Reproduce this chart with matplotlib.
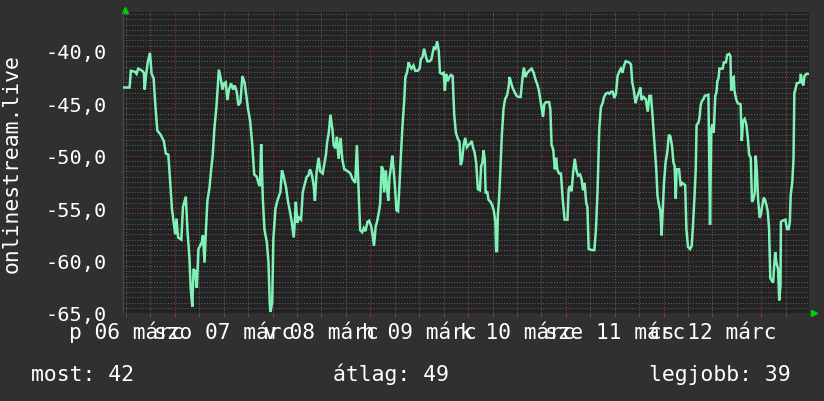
import matplotlib
matplotlib.use("Agg")
import matplotlib.pyplot as plt
from matplotlib.ticker import FuncFormatter
from matplotlib.transforms import blended_transform_factory

plt.rcParams["font.family"] = ["DejaVu Sans Mono"]

# hours relative to 07 March 00:00, and the measured values
hours = [
    -12.6, -11.1, -10.8, -9.8, -9.4, -9.0, -8.0, -7.6, -7.4, -7.0, -6.6, -6.1,
    -5.7, -5.2, -4.8, -4.3, -3.5, -2.7, -2.2, -1.6, -1.1, -0.7, -0.3, 0.1,
    0.4, 0.8, 1.6, 2.0, 2.7, 3.1, 3.6, 3.9, 4.3, 4.6, 5.0, 5.4, 5.8, 6.6,
    6.9, 7.3, 7.6, 8.0, 8.5, 8.9, 9.3, 9.7, 10.2, 10.5, 10.8, 11.3, 11.7, 12.1,
    12.5, 12.9, 13.3, 13.8, 14.3, 14.7, 15.2, 15.6, 16.1, 16.6, 17.1, 17.6,
    18.0, 18.5, 19.0, 19.5, 20.1, 20.6, 20.9, 21.2, 21.6, 22.0, 22.6, 23.0,
    23.3, 23.5, 23.9, 24.2, 24.7, 25.1, 25.6, 25.9, 26.3, 26.7, 27.0, 27.3,
    27.8, 28.3, 28.7, 29.2, 29.5, 29.7, 30.1, 30.5, 31.0, 31.4, 31.9, 32.4,
    32.8, 33.2, 33.7, 34.1, 34.4, 34.8, 35.3, 35.7, 36.3, 36.7, 37.1, 37.4,
    37.8, 38.2, 38.7, 39.0, 39.4, 39.8, 40.2, 40.7, 41.1, 41.6, 42.5, 43.1,
    43.6, 44.3, 44.7, 45.0, 45.5, 46.0, 46.4, 46.8, 47.3, 47.7, 48.2, 48.5,
    48.9, 49.3, 49.7, 50.1, 50.4, 50.8, 51.1, 51.4, 51.8, 52.1, 52.4, 52.7,
    53.1, 53.4, 53.7, 54.1, 54.4, 54.8, 55.1, 55.5, 55.9, 56.3, 56.6, 57.0,
    57.4, 57.8, 58.1, 58.6, 59.0, 59.6, 60.1, 60.4, 60.8, 61.2, 61.6, 62.0,
    62.6, 63.0, 63.3, 63.6, 64.0, 64.4, 64.8, 65.1, 65.6, 66.0, 66.3, 66.6,
    67.0, 67.4, 67.8, 68.2, 68.6, 69.0, 69.5, 69.9, 70.2, 70.5, 70.9, 71.3,
    71.7, 72.1, 72.6, 72.9, 73.2, 73.6, 74.0, 74.4, 74.9, 75.2, 75.5, 75.8,
    76.1, 76.3, 76.7, 77.0, 77.5, 77.9, 78.3, 78.7, 78.9, 79.1, 79.3, 79.6,
    79.9, 80.3, 80.7, 81.1, 81.6, 82.0, 82.2, 82.6, 83.0, 83.5, 83.9, 84.4,
    84.9, 85.3, 85.7, 86.1, 86.5, 87.0, 87.6, 88.1, 88.6, 89.0, 89.4, 89.8,
    90.4, 90.7, 91.1, 91.9, 92.2, 92.5, 92.9, 93.3, 93.6, 93.9, 94.3, 94.8,
    95.2, 95.7, 96.4, 96.7, 97.0, 97.4, 97.8, 98.2, 98.6, 99.0, 99.5, 99.9,
    100.2, 100.6, 101.0, 101.3, 101.6, 102.4, 103.0, 103.4, 103.8, 104.2,
    104.6, 105.0, 105.4, 105.8, 106.3, 106.7, 107.1, 107.5, 107.9, 108.3,
    108.7, 109.1, 109.5, 109.9, 110.3, 110.7, 111.5, 112.0, 112.3, 112.7,
    113.1, 113.5, 113.9, 114.3, 114.6, 115.1, 115.6, 116.1, 116.5, 116.9,
    117.3, 117.8, 118.2, 118.5, 118.9, 119.2, 119.5, 119.8, 120.1, 120.5,
    120.9, 121.3, 121.7, 122.1, 122.4, 122.7, 123.0, 123.2, 123.8, 124.2,
    124.6, 125.3, 125.6, 126.0, 126.5, 126.9, 127.2, 127.6, 127.9, 128.1,
    128.6, 128.8, 129.1, 129.4, 129.8, 130.1, 131.0, 131.2, 131.4, 131.7,
    132.0, 132.3, 132.7, 133.0, 133.2, 133.5, 133.7, 134.5, 134.8, 135.3,
    135.6, 136.1, 136.4, 136.6, 136.9, 137.2, 137.4, 137.8, 138.2, 138.9,
    139.2, 139.5, 139.9, 140.3, 140.7, 141.0, 141.4, 141.7, 142.0, 142.4,
    142.6, 142.9, 143.2, 143.6, 143.9, 144.2, 144.6, 144.9, 145.3, 145.6,
    145.9, 146.2, 146.9, 147.1, 147.4, 147.7, 148.1, 148.4, 148.7, 148.8,
    149.2, 149.9, 150.3, 150.7, 151.0, 151.2, 151.6, 151.9, 152.1, 152.3,
    152.7, 153.5, 153.7, 154.0, 154.3, 154.6, 155.1, 155.7,
]
values = [
    -43.5, -43.5, -41.9, -42.0, -42.2, -41.7, -41.9, -42.1, -43.7, -42.1, -41.0, -40.2,
    -42.2, -42.6, -45.1, -47.6, -48.0, -48.6, -49.8, -49.9, -52.7, -55.1, -56.3, -57.5,
    -56.0, -57.8, -58.0, -54.9, -53.9, -57.1, -59.8, -62.7, -64.4, -60.8, -61.0, -62.6, -58.9, -58.3,
    -57.6, -60.2, -57.4, -54.3, -53.1, -51.4, -50.0, -47.5, -45.4, -43.7, -41.8, -42.7, -43.7, -43.1,
    -43.0, -44.7, -43.7, -43.1, -43.7, -43.3, -43.9, -45.2, -44.9, -42.4, -43.0, -44.4,
    -45.6, -46.7, -48.9, -51.8, -52.0, -52.7, -52.9, -48.9, -54.1, -57.0, -58.3, -60.2,
    -64.0, -64.9, -64.0, -57.9, -55.1, -54.4, -53.8, -53.5, -51.4, -51.9, -52.5, -53.0,
    -54.4, -55.4, -56.3, -57.8, -56.0, -54.4, -56.4, -55.9, -56.1, -53.5, -52.7, -52.0,
    -51.9, -51.3, -51.9, -52.9, -54.3, -51.6, -50.2, -51.5, -51.7, -50.8, -49.9, -48.7,
    -47.8, -46.1, -47.5, -49.0, -49.3, -48.2, -50.3, -48.3, -50.3, -51.3, -51.5, -51.7,
    -52.2, -52.6, -49.0, -52.1, -57.1, -57.3, -56.9, -57.2, -56.3, -56.2, -56.7, -57.4,
    -58.6, -56.8, -56.2, -55.4, -54.6, -51.0, -51.3, -53.5, -51.4, -53.1, -54.3, -52.1,
    -51.0, -50.0, -51.3, -53.2, -55.2, -55.3, -53.2, -50.0, -47.1, -44.9, -42.5, -42.1,
    -41.1, -41.5, -41.7, -41.4, -41.9, -41.9, -41.7, -40.8, -40.6, -39.8, -40.5, -41.0,
    -41.0, -40.8, -40.2, -39.7, -39.8, -39.1, -40.0, -42.1, -42.2, -42.1, -43.8, -42.2,
    -42.9, -42.5, -42.3, -42.4, -46.1, -47.8, -48.4, -48.7, -50.9, -50.5, -49.0, -48.3,
    -49.2, -49.0, -48.8, -48.6, -49.2, -49.7, -50.7, -53.2, -53.3, -51.0, -50.7, -49.5,
    -50.4, -53.6, -53.4, -54.2, -54.4, -54.7, -55.2, -56.3, -59.1, -59.1, -55.7, -54.1,
    -51.6, -48.0, -45.5, -44.6, -44.2, -43.3, -42.5, -43.1, -43.6, -44.0, -44.3, -44.4,
    -44.4, -42.8, -41.6, -42.5, -42.1, -41.9, -41.7, -42.1, -42.8, -43.2, -43.8, -44.8,
    -46.3, -45.1, -44.9, -44.9, -45.6, -49.0, -49.4, -51.3, -50.2, -51.3, -51.7, -51.7,
    -54.0, -56.1, -56.1, -53.2, -52.9, -53.4, -51.6, -50.3, -51.4, -51.9, -51.8, -52.3,
    -53.3, -52.6, -54.5, -54.9, -58.9, -59.0, -59.0, -57.0, -53.2, -47.5,
    -45.4, -45.0, -44.4, -44.1, -44.0, -44.1, -43.9, -43.9, -44.5, -44.1,
    -42.4, -42.0, -41.7, -42.1, -41.4, -41.0, -41.1, -41.3, -43.0, -43.8,
    -45.0, -44.4, -44.0, -43.5, -44.7, -44.4, -44.6, -45.8, -44.3, -44.3,
    -46.3, -49.0, -51.3, -53.8, -54.8, -55.2, -57.6, -55.2, -52.6, -50.6,
    -49.7, -48.0, -48.2, -49.2, -50.6, -51.0, -54.1, -51.3, -51.3, -52.9,
    -52.6, -52.8, -57.0, -58.7, -58.9, -58.6, -56.8, -53.8, -51.3, -47.1,
    -46.8, -46.4, -45.2, -44.8, -44.6, -44.3, -44.2, -50.0, -56.6, -47.5,
    -47.0, -47.8, -44.3, -43.9, -42.9, -42.6, -41.7, -41.7, -41.1, -41.1,
    -40.4, -40.3, -40.5, -43.8, -42.6, -42.5, -43.8, -44.6, -45.0, -45.1,
    -48.6, -46.7, -46.5, -47.0, -48.4, -49.9, -50.2, -54.4, -54.2, -53.5,
    -50.0, -51.5, -54.2, -55.9, -55.6, -54.8, -54.0, -54.2, -54.8, -55.4,
    -57.0, -61.7, -62.1, -60.8, -59.2, -60.2, -60.8, -63.8, -62.4, -56.3,
    -56.2, -56.1, -57.0, -57.0, -56.3, -53.8, -52.5, -50.3, -44.0, -43.8,
    -43.1, -43.0, -42.2, -43.0, -43.3, -42.4, -42.2, -42.2,
]

day_labels = ["p 06 márc", "szo 07 márc", "v 08 márc", "h 09 márc",
              "k 10 márc", "sze 11 márc", "cs 12 márc"]
label_hours = [-12, 12, 36, 60, 84, 108, 132]
day_starts = [0, 24, 48, 72, 96, 120, 144]
legend_items = ["most: 42", "átlag: 49", "legjobb: 39"]
legend_x = [31, 333, 649]

BG = "#303030"
CANVAS = "#222222"
LINE = "#80f2b8"
TEXT = "#ffffff"

W, H = 824, 402
fig = plt.figure(figsize=(W / 100, H / 100), dpi=100, facecolor=BG)
ax = fig.add_axes([123.5 / W, 88 / H, 685.5 / W, 300.7 / H], facecolor=CANVAS)

ax.plot(hours, values, color=LINE, lw=1.8, solid_joinstyle="miter", zorder=3)

ax.set_xlim(-12.6, 155.7)
ax.set_ylim(-65, -36.33)

# grid: gray dotted minor, red dotted major
ax.set_xticks(day_starts)
ax.set_xticks([h for h in range(-12, 156, 6)], minor=True)
ax.set_yticks([-65, -60, -55, -50, -45, -40])
ax.set_yticks([v / 2 for v in range(-130, -72)], minor=True)
ax.grid(which="minor", color="#5a5a5a", lw=0.8, ls=(0, (1, 1.5)))
ax.grid(which="major", color="#8a3434", lw=0.8, ls=(0, (1, 1.5)))
ax.set_axisbelow(True)

ax.yaxis.set_major_formatter(FuncFormatter(lambda v, p: f"{v:.1f}".replace(".", ",")))
ax.tick_params(axis="y", which="both", length=0, pad=11.7, labelsize=14.6, labelcolor=TEXT)
ax.tick_params(axis="x", which="major", length=3, color="#8a3434", labelbottom=False)
ax.tick_params(axis="x", which="minor", length=3, color="#5a5a5a")

for side in ["top", "right", "bottom"]:
    ax.spines[side].set_visible(False)
ax.spines["left"].set_color("#4a4a4a")

trans = blended_transform_factory(ax.transData, ax.transAxes)
for h, lab in zip(label_hours, day_labels):
    ax.text(h, -0.0831, lab, transform=trans, ha="center", va="baseline",
            color=TEXT, fontsize=15.2, clip_on=False)

# axis arrows
ax.plot([0.0015], [1.008], marker="^", ms=5, color="#00d000", transform=ax.transAxes, clip_on=False)
ax.plot([1.0075], [0.0], marker=">", ms=5, color="#00d000", transform=ax.transAxes, clip_on=False)

fig.text(12 / W, 1 - 163.7 / H, "onlinestream.live", rotation=90, ha="center", va="center",
         color=TEXT, fontsize=15.4)

for x, txt in zip(legend_x, legend_items):
    fig.text(x / W, 1 - 381 / H, txt, ha="left", va="baseline", color=TEXT, fontsize=15.4)

fig.savefig("out.png", dpi=100, facecolor=BG)
